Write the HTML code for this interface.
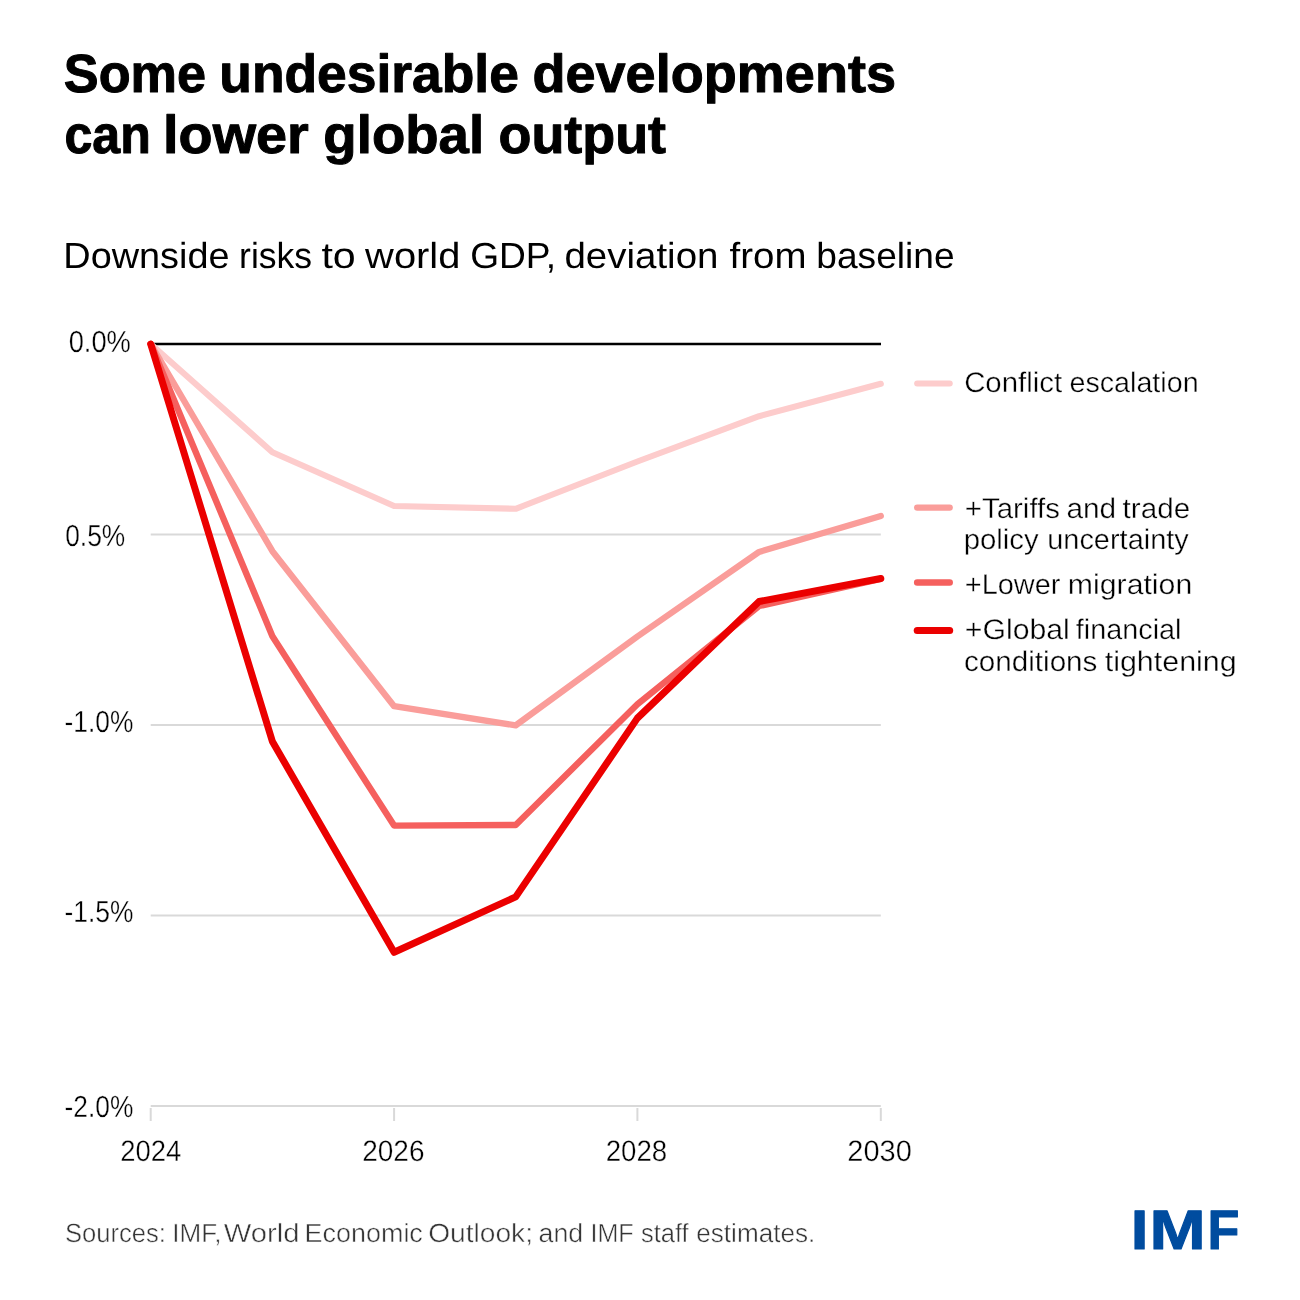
<!DOCTYPE html>
<html lang="en"><head><meta charset="utf-8"><title>Some undesirable developments can lower global output</title>
<style>html,body{margin:0;padding:0;background:#fff}body{width:1300px;height:1300px;overflow:hidden}svg{display:block}text{font-family:'Liberation Sans', Arial, Helvetica, sans-serif;text-rendering:geometricPrecision}</style>
</head><body>
<svg width="1300" height="1300" viewBox="0 0 1300 1300">
<rect width="1300" height="1300" fill="#fff"/>
<line x1="150.7" x2="880.8" y1="534.5" y2="534.5" stroke="#D9D9D9" stroke-width="2"/>
<line x1="150.7" x2="880.8" y1="725.0" y2="725.0" stroke="#D9D9D9" stroke-width="2"/>
<line x1="150.7" x2="880.8" y1="915.5" y2="915.5" stroke="#D9D9D9" stroke-width="2"/>
<line x1="150.7" x2="880.8" y1="1106.1" y2="1106.1" stroke="#D9D9D9" stroke-width="2"/>
<line x1="150.7" x2="150.7" y1="1108" y2="1121" stroke="#D9D9D9" stroke-width="2"/>
<line x1="394.1" x2="394.1" y1="1108" y2="1121" stroke="#D9D9D9" stroke-width="2"/>
<line x1="637.4" x2="637.4" y1="1108" y2="1121" stroke="#D9D9D9" stroke-width="2"/>
<line x1="880.8" x2="880.8" y1="1108" y2="1121" stroke="#D9D9D9" stroke-width="2"/>
<line x1="150.7" x2="881" y1="344" y2="344" stroke="#000" stroke-width="2.7"/>
<polyline points="150.7,344 272.4,452.3 394.1,506 515.7,508.8 637.4,461.5 759.1,416.2 880.8,383.8" fill="none" stroke="#FDCCCC" stroke-width="6.1" stroke-linecap="round" stroke-linejoin="round"/>
<polyline points="150.7,344 272.4,551.2 394.1,706.2 515.7,725.4 637.4,636.5 759.1,551.9 880.8,516" fill="none" stroke="#FA9D9A" stroke-width="6.3" stroke-linecap="round" stroke-linejoin="round"/>
<polyline points="150.7,344 272.4,636.2 394.1,825.6 515.7,825 637.4,704.2 759.1,606 880.8,578.8" fill="none" stroke="#F5605E" stroke-width="6.4" stroke-linecap="round" stroke-linejoin="round"/>
<polyline points="150.7,344 272.4,741.5 394.1,952.3 515.7,896.9 637.4,718.1 759.1,601.5 880.8,578.5" fill="none" stroke="#EB0000" stroke-width="7.0" stroke-linecap="round" stroke-linejoin="round"/>
<line x1="917.2" x2="949.7" y1="383.5" y2="383.5" stroke="#FDCCCC" stroke-width="6.1" stroke-linecap="round"/>
<line x1="917.2" x2="949.7" y1="507.6" y2="507.6" stroke="#FA9D9A" stroke-width="6.3" stroke-linecap="round"/>
<line x1="917.2" x2="949.7" y1="582.5" y2="582.5" stroke="#F5605E" stroke-width="6.5" stroke-linecap="round"/>
<line x1="917.2" x2="949.7" y1="630.6" y2="630.6" stroke="#EB0000" stroke-width="7.0" stroke-linecap="round"/>
<text y="91.80" font-size="53.60" font-weight="bold" stroke="#000" stroke-width="1.0" stroke-linejoin="round"><tspan x="63.87" textLength="142.19" lengthAdjust="spacingAndGlyphs">Some</tspan> <tspan x="219.29" textLength="299.60" lengthAdjust="spacingAndGlyphs">undesirable</tspan> <tspan x="532.40" textLength="363.61" lengthAdjust="spacingAndGlyphs">developments</tspan></text>
<text y="153.40" font-size="53.60" font-weight="bold" stroke="#000" stroke-width="1.0" stroke-linejoin="round"><tspan x="64.41" textLength="86.35" lengthAdjust="spacingAndGlyphs">can</tspan> <tspan x="163.07" textLength="145.76" lengthAdjust="spacingAndGlyphs">lower</tspan> <tspan x="323.36" textLength="160.76" lengthAdjust="spacingAndGlyphs">global</tspan> <tspan x="498.51" textLength="167.56" lengthAdjust="spacingAndGlyphs">output</tspan></text>
<text y="267.50" font-size="36.20"><tspan x="63.31" textLength="166.19" lengthAdjust="spacingAndGlyphs">Downside</tspan> <tspan x="239.10" textLength="73.01" lengthAdjust="spacingAndGlyphs">risks</tspan> <tspan x="321.41" textLength="34.29" lengthAdjust="spacingAndGlyphs">to</tspan> <tspan x="365.14" textLength="95.21" lengthAdjust="spacingAndGlyphs">world</tspan> <tspan x="470.20" textLength="85.90" lengthAdjust="spacingAndGlyphs">GDP,</tspan> <tspan x="564.48" textLength="153.99" lengthAdjust="spacingAndGlyphs">deviation</tspan> <tspan x="729.52" textLength="76.90" lengthAdjust="spacingAndGlyphs">from</tspan> <tspan x="816.34" textLength="138.21" lengthAdjust="spacingAndGlyphs">baseline</tspan></text>
<text y="351.80" font-size="30.50" stroke="#fff" stroke-width="0.35"><tspan x="68.64" textLength="62.27" lengthAdjust="spacingAndGlyphs">0.0%</tspan></text>
<text y="545.60" font-size="30.50" stroke="#fff" stroke-width="0.35"><tspan x="65.21" textLength="60.04" lengthAdjust="spacingAndGlyphs">0.5%</tspan></text>
<text y="732.20" font-size="30.50" stroke="#fff" stroke-width="0.35"><tspan x="64.54" textLength="68.85" lengthAdjust="spacingAndGlyphs">-1.0%</tspan></text>
<text y="921.90" font-size="30.50" stroke="#fff" stroke-width="0.35"><tspan x="64.54" textLength="68.85" lengthAdjust="spacingAndGlyphs">-1.5%</tspan></text>
<text y="1116.60" font-size="30.50" stroke="#fff" stroke-width="0.35"><tspan x="64.54" textLength="68.85" lengthAdjust="spacingAndGlyphs">-2.0%</tspan></text>
<text y="1160.50" font-size="29.50" stroke="#fff" stroke-width="0.35"><tspan x="120.32" textLength="61.05" lengthAdjust="spacingAndGlyphs">2024</tspan></text>
<text y="1160.50" font-size="29.50" stroke="#fff" stroke-width="0.35"><tspan x="362.22" textLength="62.31" lengthAdjust="spacingAndGlyphs">2026</tspan></text>
<text y="1160.50" font-size="29.50" stroke="#fff" stroke-width="0.35"><tspan x="605.63" textLength="61.56" lengthAdjust="spacingAndGlyphs">2028</tspan></text>
<text y="1160.50" font-size="29.50" stroke="#fff" stroke-width="0.35"><tspan x="847.35" textLength="64.57" lengthAdjust="spacingAndGlyphs">2030</tspan></text>
<text y="392.00" font-size="28.20" stroke="#fff" stroke-width="0.35"><tspan x="964.15" textLength="98.02" lengthAdjust="spacingAndGlyphs">Conflict</tspan> <tspan x="1069.46" textLength="129.15" lengthAdjust="spacingAndGlyphs">escalation</tspan></text>
<text y="517.50" font-size="28.20" stroke="#fff" stroke-width="0.35"><tspan x="964.86" textLength="95.04" lengthAdjust="spacingAndGlyphs">+Tariffs</tspan> <tspan x="1066.42" textLength="49.74" lengthAdjust="spacingAndGlyphs">and</tspan> <tspan x="1122.63" textLength="67.49" lengthAdjust="spacingAndGlyphs">trade</tspan></text>
<text y="549.20" font-size="28.20" stroke="#fff" stroke-width="0.35"><tspan x="963.67" textLength="75.08" lengthAdjust="spacingAndGlyphs">policy</tspan> <tspan x="1047.21" textLength="141.56" lengthAdjust="spacingAndGlyphs">uncertainty</tspan></text>
<text y="593.60" font-size="28.20" stroke="#fff" stroke-width="0.35"><tspan x="964.75" textLength="95.72" lengthAdjust="spacingAndGlyphs">+Lower</tspan> <tspan x="1067.86" textLength="124.34" lengthAdjust="spacingAndGlyphs">migration</tspan></text>
<text y="639.40" font-size="28.20" stroke="#fff" stroke-width="0.35"><tspan x="964.84" textLength="104.93" lengthAdjust="spacingAndGlyphs">+Global</tspan> <tspan x="1075.75" textLength="105.73" lengthAdjust="spacingAndGlyphs">financial</tspan></text>
<text y="671.40" font-size="28.20" stroke="#fff" stroke-width="0.35"><tspan x="963.99" textLength="133.44" lengthAdjust="spacingAndGlyphs">conditions</tspan> <tspan x="1104.68" textLength="132.06" lengthAdjust="spacingAndGlyphs">tightening</tspan></text>
<text y="1241.80" font-size="26.30" fill="#353535" stroke="#fff" stroke-width="0.45"><tspan x="65.02" textLength="100.92" lengthAdjust="spacingAndGlyphs">Sources:</tspan> <tspan x="172.20" textLength="49.29" lengthAdjust="spacingAndGlyphs">IMF,</tspan> <tspan x="223.67" textLength="75.82" lengthAdjust="spacingAndGlyphs">World</tspan> <tspan x="304.61" textLength="118.22" lengthAdjust="spacingAndGlyphs">Economic</tspan> <tspan x="428.15" textLength="104.87" lengthAdjust="spacingAndGlyphs">Outlook;</tspan> <tspan x="538.64" textLength="44.63" lengthAdjust="spacingAndGlyphs">and</tspan> <tspan x="590.45" textLength="43.22" lengthAdjust="spacingAndGlyphs">IMF</tspan> <tspan x="641.00" textLength="47.67" lengthAdjust="spacingAndGlyphs">staff</tspan> <tspan x="696.25" textLength="119.02" lengthAdjust="spacingAndGlyphs">estimates.</tspan></text>
<text y="1249.10" font-size="55.60" font-weight="bold" fill="#004C9F" stroke="#004C9F" stroke-width="1.0" stroke-linejoin="round"><tspan x="1130.87" textLength="17.65" lengthAdjust="spacingAndGlyphs">I</tspan><tspan x="1149.43" textLength="56.18" lengthAdjust="spacingAndGlyphs">M</tspan><tspan x="1207.55" textLength="31.92" lengthAdjust="spacingAndGlyphs">F</tspan></text>
</svg></body></html>
